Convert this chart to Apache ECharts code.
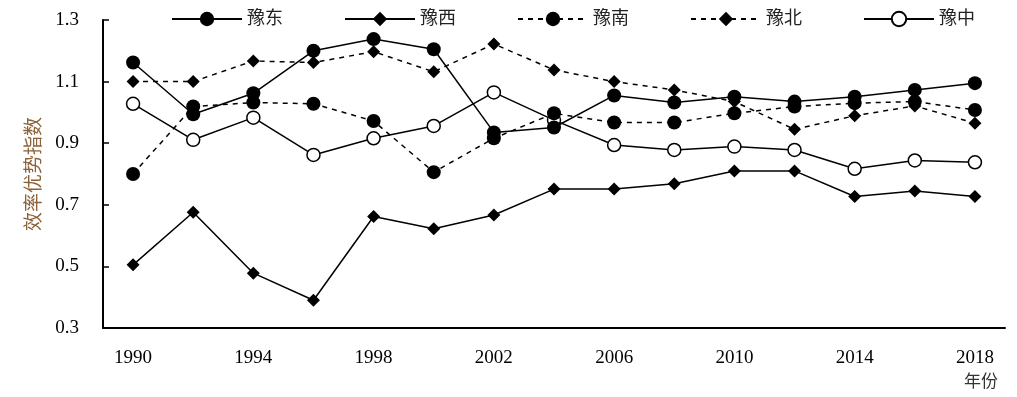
<!DOCTYPE html>
<html>
<head>
<meta charset="utf-8">
<script src="https://cdn.jsdelivr.net/npm/echarts@6/dist/echarts.min.js"></script>
<style>html,body{margin:0;padding:0;background:#fff;}#c{width:1017px;height:397px;}</style>
</head>
<body>
<div id="c"></div>
<script>
const years = ['1990','1992','1994','1996','1998','2000','2002','2004','2006','2008','2010','2012','2014','2016','2018'];
const yuDong = [1.162, 0.994, 1.062, 1.200, 1.238, 1.205, 0.935, 0.951, 1.055, 1.032, 1.051, 1.035, 1.051, 1.073, 1.095];
const yuXi = [0.505, 0.676, 0.478, 0.390, 0.662, 0.622, 0.667, 0.751, 0.751, 0.768, 0.810, 0.810, 0.727, 0.745, 0.727];
const yuNan = [0.800, 1.019, 1.032, 1.028, 0.972, 0.806, 0.916, 0.997, 0.967, 0.967, 0.997, 1.019, 1.030, 1.035, 1.008];
const yuBei = [1.100, 1.100, 1.167, 1.162, 1.197, 1.132, 1.222, 1.138, 1.100, 1.073, 1.035, 0.945, 0.989, 1.021, 0.965];
const yuZhong = [1.028, 0.911, 0.983, 0.862, 0.916, 0.956, 1.065, 0.975, 0.894, 0.878, 0.889, 0.878, 0.817, 0.844, 0.838];
const legendNames = ['豫东', '豫西', '豫南', '豫北', '豫中'];
const yTicks = { min: 0.3, max: 1.3, interval: 0.2 };

const serif = "'Liberation Serif', 'Times New Roman', 'Noto Sans CJK SC', serif";
const cjk = "'Liberation Serif', 'Noto Sans CJK SC', serif";

function mk(name, data, symbol, size, dashed, hollow) {
  return {
    name: name, type: 'line', data: data,
    symbol: symbol, symbolSize: size,
    lineStyle: { color: '#000', width: 1.5, type: dashed ? [5, 5] : 'solid' },
    itemStyle: hollow ? { color: '#fff', borderColor: '#000', borderWidth: 1.5 } : { color: '#000', borderColor: '#000', borderWidth: 0 },
    emphasis: { disabled: true },
    animation: false
  };
}

const chart = echarts.init(document.getElementById('c'));
chart.setOption({
  backgroundColor: '#fff',
  animation: false,
  legend: {
    top: 5, left: 166,
    itemWidth: 70, itemHeight: 18, itemGap: 61,
    textStyle: { fontFamily: cjk, fontSize: 18, color: '#222' },
    data: legendNames
  },
  grid: { left: 103, right: 12, top: 20, bottom: 69, containLabel: false },
  xAxis: {
    type: 'category', data: years, boundaryGap: true,
    name: '年份', nameLocation: 'end', nameGap: -41,
    nameTextStyle: { fontFamily: cjk, fontSize: 17, color: '#333', verticalAlign: 'top', align: 'left', padding: [46, 0, 0, 0] },
    axisLine: { lineStyle: { color: '#000', width: 2 } },
    axisTick: { inside: true, length: 6, interval: 0, lineStyle: { color: '#000', width: 1.5 } },
    axisLabel: { interval: 1, margin: 21, fontFamily: serif, fontSize: 19, color: '#000' },
    splitLine: { show: false }
  },
  yAxis: {
    type: 'value', min: yTicks.min, max: yTicks.max, interval: yTicks.interval,
    name: '效率优势指数', nameLocation: 'middle', nameGap: 56, nameRotate: 90,
    nameTextStyle: { fontFamily: cjk, fontSize: 19, color: '#8c6239' },
    axisLine: { show: true, lineStyle: { color: '#000', width: 2 } },
    axisTick: { show: true, inside: true, length: 6, lineStyle: { color: '#000', width: 1.5 } },
    axisLabel: { margin: 24, fontFamily: serif, fontSize: 19, color: '#000', formatter: v => v.toFixed(1) },
    splitLine: { show: false }
  },
  series: [
    mk('豫中', yuZhong, 'circle', 13, false, true),
    mk('豫西', yuXi, 'diamond', 13, false, false),
    mk('豫北', yuBei, 'diamond', 13, true, false),
    mk('豫南', yuNan, 'circle', 14, true, false),
    mk('豫东', yuDong, 'circle', 14, false, false)
  ]
});
</script>
</body>
</html>
